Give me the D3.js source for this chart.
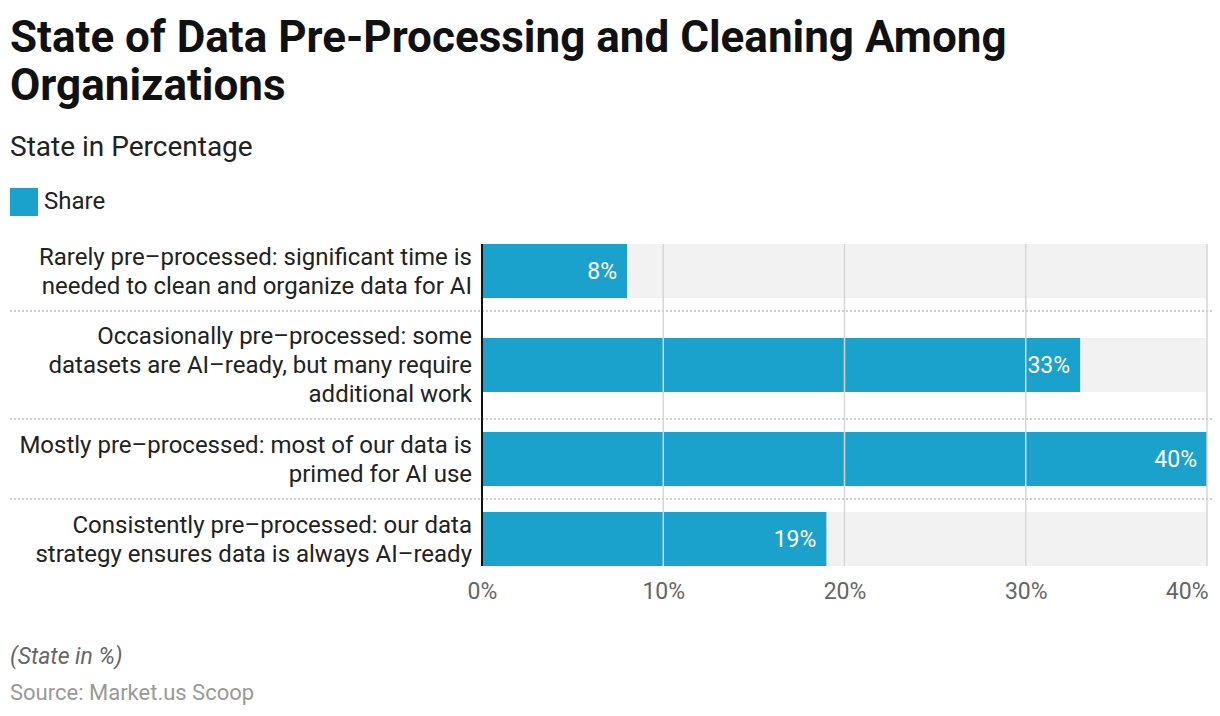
<!DOCTYPE html>
<html>
<head>
<meta charset="utf-8">
<script src="https://cdn.jsdelivr.net/npm/d3@7"></script>
<style>
  body { margin: 0; background: #fff; font-family: Roboto, "Noto Sans", sans-serif; }
</style>
</head>
<body>
<script>
// chart data
let categories = [
    ["Rarely pre\u2013processed: significant time is", "needed to clean and organize data for AI"],
    ["Occasionally pre\u2013processed: some", "datasets are AI\u2013ready, but many require", "additional work"],
    ["Mostly pre\u2013processed: most of our data is", "primed for AI use"],
    ["Consistently pre\u2013processed: our data", "strategy ensures data is always AI\u2013ready"]
];
let shares = [8, 33, 40, 19];
let ticks = [0, 10, 20, 30, 40];

let w = 1220,
    h = 716;

let svg = d3.select("body")
    .append("svg")
    .attr("width", w)
    .attr("height", h);

// title block
svg.append("text")
    .attr("x", 10).attr("y", 52)
    .style("font-size", "44px").style("font-weight", "bold").style("fill", "#111")
    .text("State of Data Pre-Processing and Cleaning Among");
svg.append("text")
    .attr("x", 10).attr("y", 100)
    .style("font-size", "44px").style("font-weight", "bold").style("fill", "#111")
    .text("Organizations");
svg.append("text")
    .attr("x", 10).attr("y", 156)
    .style("font-size", "28px").style("fill", "#222")
    .text("State in Percentage");

// legend
svg.append("rect")
    .attr("x", 10).attr("y", 188).attr("width", 28).attr("height", 28)
    .style("fill", "#1aa1cc");
svg.append("text")
    .attr("x", 44).attr("y", 209)
    .style("font-size", "24px").style("fill", "#222")
    .text("Share");

let barH = 54;
let topY = 244 - 13;

// row heights depend on how many label lines there are
let rowH = categories.map(function(d) {
    return d.length > 2 ? 108 : 80;
});
let rowY = [];
let acc = topY;
rowH.forEach(function(r) {
    rowY.push(acc);
    acc += r;
});
let bottomY = acc;

let x = d3.scaleLinear()
    .domain([0, 40])
    .range([482, 1207]);

let rows = svg.selectAll(".row")
    .data(shares)
    .enter()
    .append("g")
    .attr("class", "row")
    .attr("transform", function(d, i) {
        return "translate(0," + (rowY[i] + (rowH[i] - barH) / 2) + ")";
    });

// gray track behind each bar
rows.append("rect")
    .attr("x", x(0))
    .attr("width", x(40) - x(0))
    .attr("height", barH)
    .style("fill", "#f2f2f2");

// grid lines
svg.selectAll(".grid")
    .data(ticks.slice(1))
    .enter()
    .append("line")
    .attr("x1", function(d) { return x(d); })
    .attr("x2", function(d) { return x(d); })
    .attr("y1", topY + 13)
    .attr("y2", bottomY - 13)
    .style("stroke", "#d6d6d6")
    .style("stroke-width", 1.5);

// dotted separators between rows
svg.selectAll(".sep")
    .data(rowY.slice(1))
    .enter()
    .append("line")
    .attr("x1", 10)
    .attr("x2", 1212)
    .attr("y1", function(d) { return d; })
    .attr("y2", function(d) { return d; })
    .style("stroke", "#cfcfcf")
    .style("stroke-width", 2)
    .style("stroke-dasharray", "2,2");

rows.append("rect")
    .attr("x", x(0))
    .attr("width", function(d) { return x(d) - x(0); })
    .attr("height", barH)
    .style("fill", "#1aa1cc");

rows.append("text")
    .attr("x", function(d) { return x(d) - 10; })
    .attr("y", barH / 2 + 8)
    .attr("text-anchor", "end")
    .style("font-size", "23px")
    .style("fill", "#fff")
    .text(function(d) { return d + "%"; });

// category labels
rows.append("text")
    .attr("text-anchor", "end")
    .style("font-size", "24px")
    .style("fill", "#222")
    .each(function(d, i) {
        let lines = categories[i];
        let lh = 29;
        let y0 = barH / 2 - (lines.length - 1) * lh / 2 + 8;
        d3.select(this).selectAll("tspan")
            .data(lines)
            .enter()
            .append("tspan")
            .attr("x", 472)
            .attr("y", function(l, j) { return y0 + j * lh; })
            .text(function(l) { return l; });
    });

// axis line
svg.append("line")
    .attr("x1", x(0)).attr("x2", x(0))
    .attr("y1", topY + 13).attr("y2", bottomY - 13)
    .style("stroke", "#111")
    .style("stroke-width", 2);

// x axis tick labels
let xAxis = d3.axisBottom(x)
    .tickValues(ticks)
    .tickSize(0)
    .tickPadding(17)
    .tickFormat(function(d) { return d + "%"; });

let axis = svg.append("g")
    .attr("transform", "translate(0," + (bottomY - 13) + ")")
    .call(xAxis);
axis.select(".domain").remove();
axis.selectAll("text")
    .style("font-family", "Roboto, sans-serif")
    .style("font-size", "23px")
    .style("fill", "#666");
axis.selectAll(".tick:last-of-type text").attr("text-anchor", "end").attr("dx", 1);

// footer
svg.append("text")
    .attr("x", 10).attr("y", 664)
    .style("font-size", "23px").style("font-style", "italic").style("fill", "#666")
    .text("(State in %)");
svg.append("text")
    .attr("x", 10).attr("y", 700)
    .style("font-size", "22px").style("fill", "#999")
    .text("Source: Market.us Scoop");
</script>
</body>
</html>
